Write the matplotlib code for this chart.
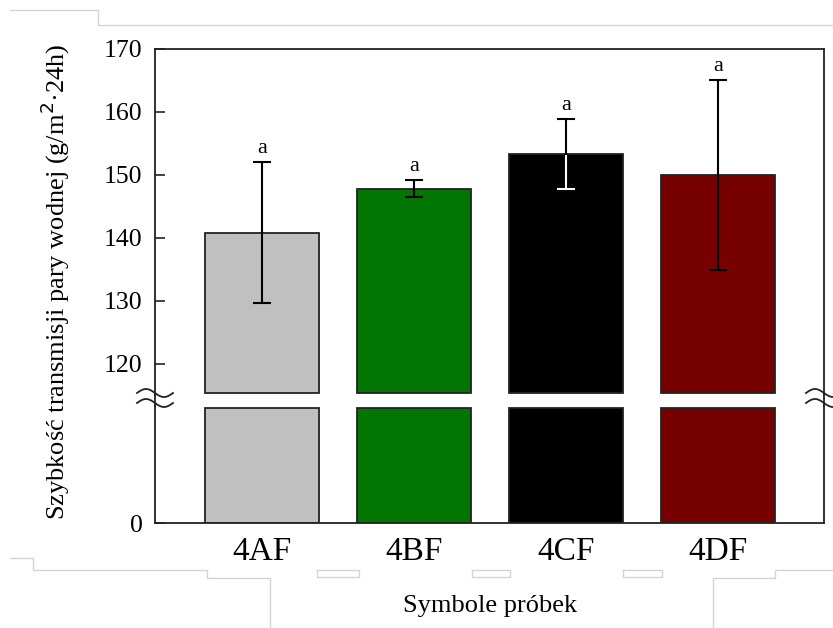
import numpy as np
import matplotlib
matplotlib.use("Agg")
import matplotlib.pyplot as plt
from matplotlib.lines import Line2D

# dane: szybkosc transmisji pary wodnej
samples = ["4AF", "4BF", "4CF", "4DF"]
wvtr = [140.8, 147.8, 153.3, 150.0]
wvtr_sd = [11.2, 1.4, 5.5, 15.1]
letters = ["a", "a", "a", "a"]
colors = ["#c0c0c0", "#037503", "#000000", "#770000"]
# czy dolna czesc slupka bledu ma byc biala (na ciemnym slupku)
white_inner = [False, False, True, False]

upper_ticks = [120, 130, 140, 150, 160, 170]

plt.rcParams["font.family"] = ["Liberation Serif", "DejaVu Serif"]

W, H = 833, 628
fig = plt.figure(figsize=(W / 100, H / 100), dpi=100)

def fx(px):
    return px / W

def fy(py):
    return 1 - py / H

left, right = 155, 824
top, brk_hi, brk_lo, bottom = 49, 395, 406, 523

ax_up = fig.add_axes([fx(left), fy(brk_hi), fx(right - left), fy(top) - fy(brk_hi)])
ax_lo = fig.add_axes([fx(left), fy(bottom), fx(right - left), fy(brk_lo) - fy(bottom)])

x = np.arange(len(samples))
vals = np.array(wvtr)
up_min, lo_max = 115.0, 20.0
up_base = 115.3

# gorna czesc slupkow (od przerwy w gore) i dolna (od zera do przerwy)
ax_up.bar(x, vals - up_base, bottom=up_base, width=0.745, color=colors,
          edgecolor="#222222", linewidth=1.3)
ax_lo.bar(x, np.minimum(vals, lo_max * 0.985), width=0.745, color=colors,
          edgecolor="#222222", linewidth=1.3)

for ax in (ax_up, ax_lo):
    ax.set_xlim(-0.704, 3.697)
    for s in ax.spines.values():
        s.set_linewidth(1.3)
        s.set_color("#222222")
    ax.tick_params(axis="both", direction="in", length=7, width=1.2,
                   labelsize=18.5, color="#222222", pad=9)

ax_up.set_ylim(up_min, 170)
ax_up.set_yticks(upper_ticks)
ax_up.set_xticks([])
ax_up.spines["bottom"].set_visible(False)

ax_lo.set_ylim(0, lo_max)
ax_lo.set_yticks([0])
ax_lo.spines["top"].set_visible(False)
ax_lo.set_xticks(x)
ax_lo.set_xticklabels(samples, fontsize=24)
ax_lo.tick_params(axis="x", length=0, pad=10)

# slupki bledu i litery
for i in range(len(samples)):
    ax_up.errorbar(x[i], vals[i], yerr=wvtr_sd[i], color="black",
                   capsize=6.5, elinewidth=1.5, capthick=1.5)
    if white_inner[i]:
        ax_up.vlines(x[i], vals[i] - wvtr_sd[i], vals[i] - 0.2, color="white", lw=1.5)
        ax_up.plot(x[i], vals[i] - wvtr_sd[i], marker="_", ms=13, mew=1.5, color="white")
    ax_up.annotate(letters[i], (x[i], vals[i] + wvtr_sd[i]), xytext=(0, 3),
                   textcoords="offset points", ha="center", va="bottom", fontsize=16)

# ciagla os w miejscu przerwania i znaczniki przerwy
for sx in (left, right):
    fig.add_artist(Line2D([fx(sx), fx(sx)], [fy(brk_hi), fy(brk_lo)],
                          color="#222222", lw=1.3))
    t = np.linspace(-1, 1, 40)
    for yy in (brk_hi - 2, brk_lo - 3):
        xs = sx + 18 * t
        ys = yy + 4 * np.sin(np.pi * t)
        fig.add_artist(Line2D(fx(xs), fy(ys), color="#222222", lw=1.3))

fig.text(fx(55), fy(282),
         "Szybkość transmisji pary wodnej (g/m$^{2}$·24h)",
         rotation=90, ha="center", va="center", fontsize=19)
fig.text(fx(490), fy(606), "Symbole próbek", ha="center", va="center", fontsize=19)

# linie ramki tabeli wokol rysunku
frame_color = "#d4d4d4"
frame_lines = [
    ([10, 98, 98, 833], [10, 10, 25, 25]),
    ([10, 33, 33, 207, 207, 270, 270], [558, 558, 570, 570, 578, 578, 628]),
    ([833, 775, 775, 713, 713], [570, 570, 578, 578, 628]),
    ([317, 359, 359, 317, 317], [570, 570, 577, 577, 570]),
    ([472, 510, 510, 472, 472], [570, 570, 577, 577, 570]),
    ([623, 662, 662, 623, 623], [570, 570, 577, 577, 570]),
]
for lx, ly in frame_lines:
    fig.add_artist(Line2D(fx(np.array(lx)), fy(np.array(ly)), color=frame_color, lw=1.0))

fig.savefig("out.png", dpi=100)
